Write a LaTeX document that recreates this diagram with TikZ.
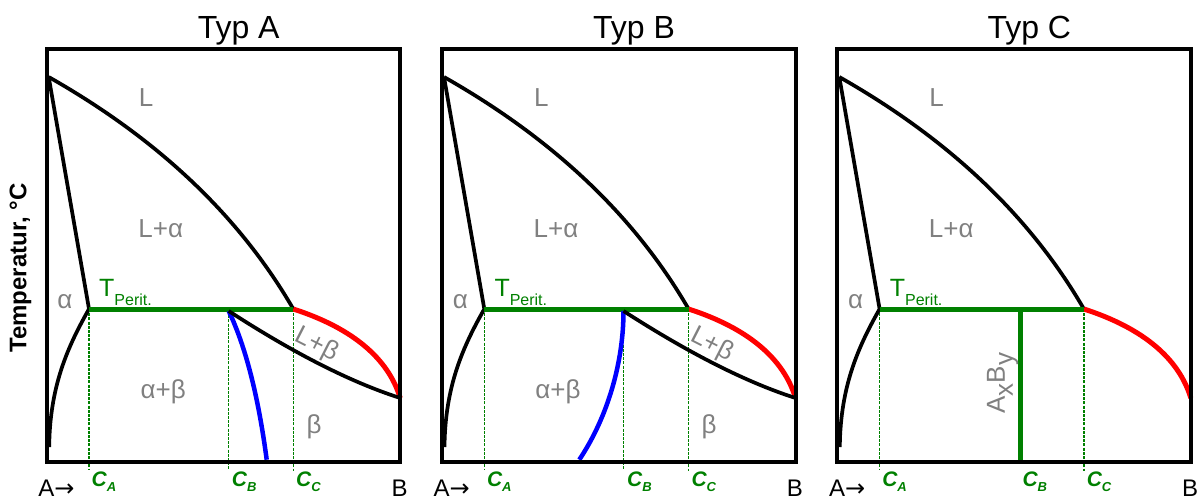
\documentclass[tikz,border=0pt]{standalone}
\usepackage{fontspec}
\setmainfont{Liberation Sans}
\newfontfamily\arrowfont{DejaVu Sans}
\definecolor{pgreen}{RGB}{0,128,0}
\definecolor{lgrey}{RGB}{128,128,128}
\tikzset{
  frame/.style={line width=4pt},
  phase/.style={line width=3.7pt},
  peri/.style={line width=5pt, pgreen},
  redcurve/.style={line width=5pt, red},
  bluecurve/.style={line width=4.5pt, blue},
  guide/.style={pgreen, line width=1.2pt, dash pattern=on 3pt off 1.2pt},
  region/.style={lgrey, font=\fontsize{26}{26}\selectfont, anchor=base, inner sep=0pt},
  title/.style={font=\fontsize{32}{32}\selectfont, anchor=base, inner sep=0pt},
  conc/.style={pgreen, font=\fontsize{21}{21}\selectfont\bfseries\itshape, anchor=base west, inner sep=0pt},
  axislbl/.style={font=\fontsize{24}{24}\selectfont, anchor=base west, inner sep=0pt},
}
\newcommand\lowsub[3]{\raisebox{#1}{\fontsize{#2}{#2}\selectfont #3}}
\newcommand\panelcoords{%
  \coordinate (tl) at (0,49.3);
  \coordinate (br) at (353.5,461.7);
  \coordinate (M) at (2,77);
  \coordinate (S) at (42.3,309);
  \coordinate (P) at (246.6,309);
  \coordinate (E) at (353.5,398);
  \coordinate (V) at (2.5,447);
  \coordinate (ca) at (42.3,470);
  \coordinate (cc) at (246.6,471);
}
\newcommand\panelbody[1]{%
  \draw[guide] (S) -- (ca);
  \draw[guide] (P) -- (cc);
  \draw[phase] (M) .. controls (111.3,139) and (192.6,215.8) .. (P);
  \draw[phase] (M) -- (S) .. controls (22,345) and (3,385) .. (V);
  \draw[redcurve] (P) .. controls (305.9,328.2) and (341.5,358.4) .. (E);
  \draw[peri] (S) -- (P);
  \node[title] (title) at (192,38.3) {#1};
  \node[region] (lL) at (99.3,106) {L};
  \node[region] (lLa) at (114,237.3) {L+α};
  \node[region] (la) at (18.3,308.3) {α};
  \node[anchor=base west, pgreen, inner sep=0pt, font=\fontsize{25}{25}\selectfont] (tp) at (52.3,296.7) {T\lowsub{-8.3pt}{16}{Perit.}};
  \node[conc] (lca) at (44.8,486.7) {C\lowsub{-5pt}{13}{A}};
  \node[conc] (lcb) at (185,486.7) {C\lowsub{-5pt}{13}{B}};
  \node[conc] (lcc) at (249.3,486.7) {C\lowsub{-5pt}{13}{C}};
  \node[axislbl] (lA) at (-8.5,496.5) {A{\arrowfont →}};
  \node[axislbl] (lB) at (344.7,496.5) {B};
}
\begin{document}
\begin{tikzpicture}[x=1pt,y=-1pt]
\useasboundingbox (0,0) rectangle (1201,498);
\node[rotate=90, font=\fontsize{24}{24}\selectfont\bfseries, inner sep=0pt] (ylab) at (20.5,268) {Temperatur, °C};
% ---- Typ A
\begin{scope}[shift={(46.7,0)}, name prefix=a-]
  \panelcoords
  \coordinate (Q) at (182,311);
  \coordinate (cb) at (182,470);
  \coordinate (Bb) at (220,459.7);
  \draw[guide] (Q) -- (cb);
  \panelbody{Typ A}
  \draw[bluecurve] (Q) .. controls (198.9,346.3) and (211.6,396.3) .. (Bb);
  \draw[phase] (Q) .. controls (247,353.2) and (304.1,382.2) .. (E);
  \node[region] (lab) at (116.6,398.3) {α+β};
  \node[region] (lb) at (267.3,433) {β};
  \node[region, anchor=center, rotate=-27] (lLb) at (270,345) {L+β};
  \draw[frame] (tl) rectangle (br);
\end{scope}
% ---- Typ B
\begin{scope}[shift={(442,0)}, name prefix=b-]
  \panelcoords
  \coordinate (Q) at (181.5,311);
  \coordinate (cb) at (181.5,470);
  \coordinate (Bb) at (137.3,459.7);
  \draw[guide] (Q) -- (cb);
  \panelbody{Typ B}
  \draw[bluecurve] (Q) .. controls (181.5,360) and (167,415) .. (Bb);
  \draw[phase] (Q) .. controls (247,353.2) and (304.1,382.2) .. (E);
  \node[region] (lab) at (116,398.3) {α+β};
  \node[region] (lb) at (267,433) {β};
  \node[region, anchor=center, rotate=-27] (lLb) at (270,345) {L+β};
  \draw[frame] (tl) rectangle (br);
\end{scope}
% ---- Typ C
\begin{scope}[shift={(837.3,0)}, name prefix=c-]
  \panelcoords
  \coordinate (T) at (182.7,309);
  \coordinate (Tb) at (182.7,461.7);
  \panelbody{Typ C}
  \draw[peri] (T) -- (Tb);
  \node[lgrey, rotate=90, inner sep=0pt, font=\fontsize{26}{26}\selectfont] (lAB) at (165.3,383.3) {A\lowsub{-8pt}{26}{x}B\lowsub{-8pt}{26}{y}};
  \draw[frame] (tl) rectangle (br);
\end{scope}
\end{tikzpicture}
\end{document}
